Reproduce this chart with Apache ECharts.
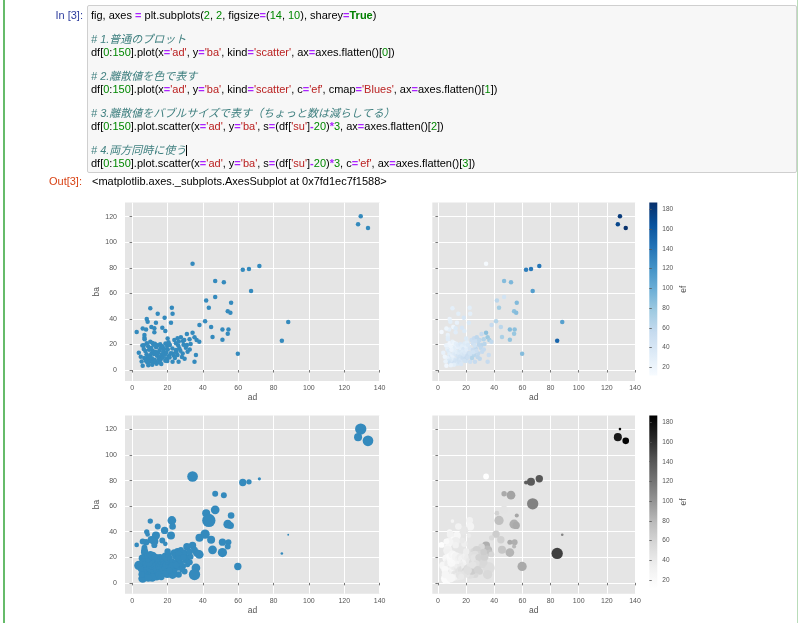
<!DOCTYPE html>
<html><head><meta charset="utf-8">
<script src="https://cdn.jsdelivr.net/npm/echarts@6/dist/echarts.min.js"></script>
<style>
html,body{margin:0;padding:0;width:800px;height:623px;overflow:hidden;background:#fff;}
#chart{position:absolute;left:0;top:0;width:800px;height:623px;}
.nb{position:absolute;left:0;top:0;width:800px;height:623px;pointer-events:none;font-family:"Liberation Sans",Arial,"Noto Sans CJK JP",sans-serif;font-size:11px;color:#000;}
.gl{position:absolute;left:3px;top:0;width:2px;height:623px;background:#66BB6A;}
.gr{position:absolute;left:797px;top:0;width:1px;height:623px;background:#b9dcb9;}
.box{position:absolute;left:87px;top:5px;width:708px;height:166px;background:#f7f7f7;border:1px solid #cfcfcf;border-radius:2px;}
.code{position:absolute;left:91px;top:8.8px;line-height:12.33px;white-space:normal;}
.code div{height:12.33px;white-space:pre;}
.o{color:#AA22FF;font-weight:bold;}
.n{color:#008800;}
.s{color:#BA2121;}
.k{color:#008000;font-weight:bold;}
.c{color:#408080;font-style:italic;font-family:"Liberation Sans","Noto Sans CJK JP",sans-serif;}
.pin{position:absolute;right:717px;top:9px;color:#303F9F;line-height:12px;}
.pout{position:absolute;right:718px;top:175px;color:#D84315;line-height:12px;}
.out{position:absolute;left:92px;top:175px;line-height:12px;}
.cur{display:inline-block;width:0;height:11px;border-left:1px solid #000;vertical-align:-2px;}
</style></head>
<body>
<div id="chart"></div>
<div class="nb">
  <div class="gl"></div><div class="gr"></div>
  <div class="box"></div>
  <div class="pin">In&nbsp;[3]:</div>
  <div class="code"><div>fig, axes <span class="o">=</span> plt.subplots(<span class="n">2</span>, <span class="n">2</span>, figsize<span class="o">=</span>(<span class="n">14</span>, <span class="n">10</span>), sharey<span class="o">=</span><span class="k">True</span>)</div><div></div><div class="c"># 1.普通のプロット</div><div>df[<span class="n">0</span>:<span class="n">150</span>].plot(x<span class="o">=</span><span class="s">'ad'</span>, y<span class="o">=</span><span class="s">'ba'</span>, kind<span class="o">=</span><span class="s">'scatter'</span>, ax<span class="o">=</span>axes.flatten()[<span class="n">0</span>])</div><div></div><div class="c"># 2.離散値を色で表す</div><div>df[<span class="n">0</span>:<span class="n">150</span>].plot(x<span class="o">=</span><span class="s">'ad'</span>, y<span class="o">=</span><span class="s">'ba'</span>, kind<span class="o">=</span><span class="s">'scatter'</span>, c<span class="o">=</span><span class="s">'ef'</span>, cmap<span class="o">=</span><span class="s">'Blues'</span>, ax<span class="o">=</span>axes.flatten()[<span class="n">1</span>])</div><div></div><div class="c"># 3.離散値をバブルサイズで表す（ちょっと数は減らしてる）</div><div>df[<span class="n">0</span>:<span class="n">150</span>].plot.scatter(x<span class="o">=</span><span class="s">'ad'</span>, y<span class="o">=</span><span class="s">'ba'</span>, s<span class="o">=</span>(df[<span class="s">'su'</span>]<span class="o">-</span><span class="n">20</span>)<span class="o">*</span><span class="n">3</span>, ax<span class="o">=</span>axes.flatten()[<span class="n">2</span>])</div><div></div><div class="c"># 4.両方同時に使う<span class="cur"></span></div><div>df[<span class="n">0</span>:<span class="n">150</span>].plot.scatter(x<span class="o">=</span><span class="s">'ad'</span>, y<span class="o">=</span><span class="s">'ba'</span>, s<span class="o">=</span>(df[<span class="s">'su'</span>]<span class="o">-</span><span class="n">20</span>)<span class="o">*</span><span class="n">3</span>, c<span class="o">=</span><span class="s">'ef'</span>, ax<span class="o">=</span>axes.flatten()[<span class="n">3</span>])</div></div>
  <div class="pout">Out[3]:</div>
  <div class="out">&lt;matplotlib.axes._subplots.AxesSubplot at 0x7fd1ec7f1588&gt;</div>
</div>
<script>
// ---- data (df[0:150]) ----
const ad = [
127.8,129.3,133.4,34.2,62.6,66.1,72.0,47.0,51.9,67.3,
41.9,47.0,56.0,43.4,54.1,55.6,88.3,84.7,59.8,41.3,
38.1,44.7,51.1,54.5,54.1,45.5,51.1,34.2,35.3,36.5,
38.0,36.1,35.3,31.0,29.5,31.0,30.4,29.7,26.3,22.9,
19.9,22.5,22.9,22.0,18.4,18.8,17.1,14.5,10.3,13.5,
8.3,8.8,10.9,12.6,7.9,6.0,2.6,7.0,7.0,7.1,
6.6,3.8,6.0,12.6,
5.8,6.6,7.5,8.2,8.8,9.4,6.9,7.8,8.6,9.9,
10.6,11.2,11.9,12.5,13.1,10.2,11.0,11.7,12.4,13.3,
14.1,14.8,15.5,16.2,13.6,12.1,10.8,9.6,9.1,8.3,
10.3,11.5,12.9,14.4,15.9,17.2,18.1,17.6,16.8,15.6,
14.9,16.1,17.4,18.6,19.3,20.2,19.8,18.9,20.6,21.4,
21.9,20.9,19.7,18.8,22.8,23.6,13.8,11.4,9.2,15.2,
23.9,25.7,27.6,28.8,24.8,26.7,24.8,22.9,25.7,28.6,31.4,26.4,26.1,29.1,24.2,27.3,32.6,
4.9,5.4,16.5,21.2,24.9,33.1,32.5,28.2,20.1
];
const ba = [
114.0,120.3,111.1,83.2,78.5,79.0,81.4,69.7,68.6,61.8,
54.5,57.1,52.7,48.8,45.9,44.9,37.6,23.0,12.8,38.1,
35.2,33.7,31.8,31.8,28.4,25.8,23.7,29.2,25.6,23.5,
22.2,11.7,6.5,28.2,23.5,19.6,17.5,8.9,6.5,6.5,
7.0,48.8,44.1,37.0,41.0,30.5,33.1,44.1,48.3,37.0,
39.9,37.8,33.7,32.6,31.8,32.4,29.7,27.4,25.3,24.0,
19.3,13.6,3.4,29.5,
19.2,16.5,14.8,12.3,10.1,8.4,9.5,7.2,5.8,6.4,
7.6,9.3,6.1,8.1,6.8,11.4,13.2,15.1,12.6,14.2,
11.1,13.6,15.4,17.3,17.9,19.8,17.2,15.8,18.6,20.9,
22.1,21.2,20.5,19.4,20.1,18.6,16.4,14.3,12.2,10.4,
8.7,7.9,9.6,11.9,13.8,16.1,18.9,20.7,21.8,19.6,
13.1,11.2,9.1,7.3,16.8,11.4,4.9,4.2,3.8,6.1,
23.5,24.8,25.6,22.7,20.9,17.0,15.7,13.0,11.7,13.0,14.3,22.4,19.2,19.8,9.4,15.1,16.1,
10.4,6.7,4.8,9.8,13.9,20.4,24.1,10.2,24.6
];
const ef = [
172,180,186,13,135,138,140,88,92,112,
62,45,90,75,85,88,110,152,88,65,
55,62,88,85,80,70,82,85,78,72,
58,52,55,55,60,62,58,60,55,50,
45,30,28,38,42,35,40,30,28,25,
22,30,20,35,28,20,15,25,30,32,
22,25,18,32,
22,28,35,30,40,34,26,38,45,42,
36,30,48,40,44,25,32,28,36,30,
42,34,38,30,26,24,30,22,20,18,
24,20,28,32,36,30,40,34,38,44,
46,40,50,42,36,32,28,34,30,36,
48,52,55,46,40,50,38,30,24,44,
50,55,60,58,48,60,52,45,62,58,55,50,45,60,65,50,56,
20,24,40,50,45,62,65,60,35
];
// bubble sizes as drawn in panel 3
const su = [
58,96,88,88,52,37,26,41,41,18,
58,65,46,125,65,50,22,24,52,71,
58,58,52,41,41,65,71,52,46,52,
65,65,96,52,46,52,46,41,46,65,
58,65,46,58,52,33,41,41,37,58,
37,33,52,58,46,41,33,41,46,52,
58,71,65,41,
52,48,42,56,45,50,54,60,40,44,
50,58,42,48,54,60,45,52,40,50,
55,44,48,54,42,62,46,52,44,38,
50,58,45,52,42,48,54,44,40,50,
36,45,52,42,48,38,50,56,44,40,
46,54,42,50,38,45,58,62,54,48,
52,45,42,48,54,50,44,56,40,46,36,50,44,40,36,45,42,
38,44,48,42,45,40,46,38,44
];
// bubble sizes as drawn in panel 4
const su4 = [
58,24,46,40,30,58,52,37,65,96,
33,58,30,71,71,52,24,96,71,52,
37,52,35,41,30,58,65,58,71,46,
40,105,71,46,52,40,58,44,50,62,
56,48,58,33,65,44,41,46,28,56,
37,50,46,60,65,40,41,52,71,48,
58,58,90,44,
52,46,60,40,56,66,48,58,62,44,
50,70,54,46,60,38,64,52,58,44,
48,66,40,56,60,50,46,62,54,42,
58,48,66,44,52,60,38,56,62,46,
54,48,70,42,58,50,64,44,56,60,
40,52,58,46,62,48,56,44,66,50,
56,48,60,44,66,52,58,46,62,40,54,48,60,50,56,44,52,
48,56,42,60,50,58,46,52,44
];
const xTicks = [0,20,40,60,80,100,120,140];
const yTicks = [0,20,40,60,80,100,120];
const cbTicks = [20,40,60,80,100,120,140,160,180];
const xName = 'ad', yName = 'ba', cName = 'ef';

// ---- style ----
const blues = ['#f7fbff','#deebf7','#c6dbef','#9ecae1','#6baed6','#4292c6','#2171b5','#08519c','#08306b'];
const greys = ['#ffffff','#f0f0f0','#d9d9d9','#bdbdbd','#969696','#737373','#525252','#252525','#000000'];
const EF_MIN = 11.5, EF_MAX = 187;
const XMIN = -4, XMAX = 140.2, YMIN = -8.5, YMAX = 131;
const FONT = 'Liberation Sans';
const LBL = '#555555';

const rows = ad.map((x, i) => [x, ba[i], ef[i], su[i], su4[i]]);
const grad = (cols) => ({type:'linear', x:0, y:1, x2:0, y2:0,
  colorStops: cols.map((c, i) => ({offset: i / (cols.length - 1), color: c}))});
const bubble = (k) => (v) => { const s = (v[k] - 20) * 3; return s > 0 ? Math.sqrt(s) * 0.75 : 0; };

const G = [
  {left:125, top:202.6, width:255, height:178.3},
  {left:432.3, top:202.6, width:203, height:178.3},
  {left:125, top:415.4, width:255, height:178.3},
  {left:432.3, top:415.4, width:203, height:178.3},
  {left:649.3, top:202.6, width:8, height:173},
  {left:649.3, top:415.4, width:8, height:173}
];
const grid = G.map((g, i) => Object.assign({show:true, borderWidth:0, containLabel:false,
  backgroundColor: i < 4 ? '#E5E5E5' : grad(i === 4 ? blues : greys)}, g));

const xAxis = [], yAxis = [];
for (let i = 0; i < 4; i++) {
  xAxis.push({type:'value', gridIndex:i, min:XMIN, max:XMAX, splitNumber:7,
    name:xName, nameLocation:'middle', nameGap:12.5,
    nameTextStyle:{fontSize:8.5, color:LBL, fontFamily:FONT},
    axisLine:{show:false},
    axisTick:{show:true, length:2.5, lineStyle:{color:LBL, width:0.8}, customValues:xTicks},
    axisLabel:{fontSize:7, color:LBL, fontFamily:FONT, margin:3.5, customValues:xTicks},
    splitLine:{show:true, lineStyle:{color:'#ffffff', width:1}}});
  const left = (i % 2 === 0);
  yAxis.push({type:'value', gridIndex:i, min:YMIN, max:YMAX, splitNumber:7,
    name: left ? yName : '', nameLocation:'middle', nameGap:21,
    nameTextStyle:{fontSize:8.5, color:LBL, fontFamily:FONT},
    axisLine:{show:false},
    axisTick:{show:true, length:2.5, lineStyle:{color:LBL, width:0.8}, customValues:yTicks},
    axisLabel:{show:left, fontSize:7, color:LBL, fontFamily:FONT, margin:8, customValues:yTicks},
    splitLine:{show:true, lineStyle:{color:'#ffffff', width:1}}});
}
for (let i = 4; i < 6; i++) {
  xAxis.push({type:'value', gridIndex:i, min:0, max:1, show:false});
  yAxis.push({type:'value', gridIndex:i, min:EF_MIN, max:EF_MAX, splitNumber:9, position:'right',
    name:cName, nameLocation:'middle', nameGap:22, nameRotate:90,
    nameTextStyle:{fontSize:8.5, color:LBL, fontFamily:FONT},
    axisLine:{show:false},
    axisTick:{show:true, length:2.5, lineStyle:{color:LBL, width:0.8}, customValues:cbTicks},
    axisLabel:{fontSize:6.5, color:LBL, fontFamily:FONT, margin:5, customValues:cbTicks},
    splitLine:{show:false}});
}

const option = {
  animation:false,
  textStyle:{fontFamily:FONT},
  grid, xAxis, yAxis,
  visualMap:[
    {type:'continuous', show:false, seriesIndex:1, dimension:2, min:EF_MIN, max:EF_MAX, inRange:{color:blues}},
    {type:'continuous', show:false, seriesIndex:3, dimension:2, min:EF_MIN, max:EF_MAX, inRange:{color:greys}}
  ],
  series:[
    {type:'scatter', xAxisIndex:0, yAxisIndex:0, data:rows, symbolSize:4.5,
      itemStyle:{color:'#348ABD', opacity:1}},
    {type:'scatter', xAxisIndex:1, yAxisIndex:1, data:rows, symbolSize:4.5,
      itemStyle:{opacity:1}},
    {type:'scatter', xAxisIndex:2, yAxisIndex:2, data:rows, symbolSize:bubble(3),
      itemStyle:{color:'#348ABD', opacity:1}},
    {type:'scatter', xAxisIndex:3, yAxisIndex:3, data:rows, symbolSize:bubble(4),
      itemStyle:{opacity:1}}
  ]
};
const chart = echarts.init(document.getElementById('chart'), null, {renderer:'canvas'});
chart.setOption(option);
</script>
</body></html>
